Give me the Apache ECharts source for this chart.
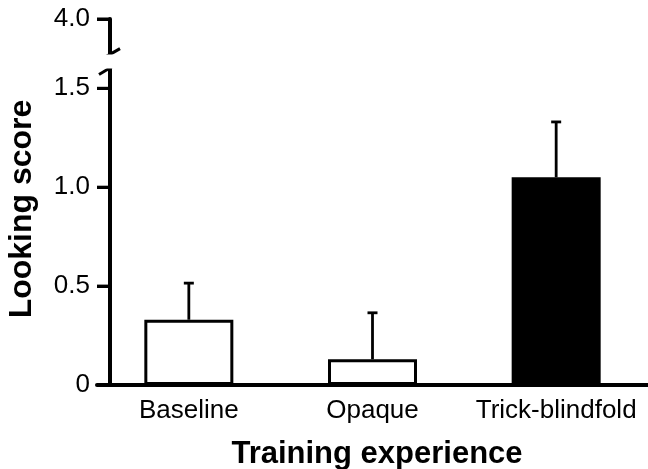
<!DOCTYPE html>
<html>
<head>
<meta charset="utf-8">
<script src="https://cdn.jsdelivr.net/npm/echarts@6/dist/echarts.min.js"></script>
<style>
html,body{margin:0;padding:0;background:#fff;}
#chart{width:648px;height:469px;}
</style>
</head>
<body>
<div id="chart"></div>
<script>
const categories = ['Baseline', 'Opaque', 'Trick-blindfold'];
const means = [0.33, 0.13, 1.05];
const errorTops = [0.515, 0.365, 1.33];
const barFills = ['#ffffff', '#ffffff', '#000000'];
const yTickValues = [0, 0.5, 1.0, 1.5, 4.0];
const yBreak = { start: 1.6, end: 3.82 };
const yMin = 0, yMax = 4.0;
const xTitle = 'Training experience';
const yTitle = 'Looking score';

const FONT = 'Liberation Sans, Arial, Helvetica, sans-serif';
const chart = echarts.init(document.getElementById('chart'), null, { renderer: 'canvas' });

const option = {
  backgroundColor: '#ffffff',
  animation: false,
  grid: { left: 97, top: 19, width: 558, bottom: 84, containLabel: false },
  xAxis: {
    type: 'category',
    data: categories,
    axisLine: { lineStyle: { color: '#000', width: 4 } },
    axisTick: { show: false },
    axisLabel: { color: '#000', fontFamily: FONT, fontSize: 26, margin: 13, interval: 0, hideOverlap: false },
    splitLine: { show: false }
  },
  yAxis: {
    type: 'value',
    min: yMin, max: yMax,
    offset: -13,
    breaks: [{ start: yBreak.start, end: yBreak.end, gap: '3.8%', isExpanded: false }],
    breakArea: {
      show: true,
      expandOnClick: false,
      zigzagAmplitude: 0,
      itemStyle: { color: '#ffffff', borderWidth: 0, borderColor: 'rgba(0,0,0,0)', opacity: 1 }
    },
    axisLine: { show: true, lineStyle: { color: '#000', width: 4 } },
    axisTick: { show: true, inside: false, length: 13, customValues: yTickValues, lineStyle: { color: '#000', width: 3 } },
    axisLabel: {
      color: '#000', fontFamily: FONT, fontSize: 26, margin: 20,
      customValues: yTickValues,
      formatter: v => (v === 0 ? '0' : v.toFixed(1))
    },
    splitLine: { show: false }
  },
  series: [
    {
      type: 'bar',
      barWidth: 89,
      data: means.map((m, i) => ({
        value: m,
        itemStyle: { color: barFills[i], borderColor: '#000', borderWidth: 3 }
      })),
      z: 2
    },
    {
      type: 'custom',
      z: 3,
      data: means.map((m, i) => [i, m, errorTops[i]]),
      renderItem: function (params, api) {
        const base = api.coord([api.value(0), api.value(1)]);
        const top = api.coord([api.value(0), api.value(2)]);
        const cap = 5;
        return {
          type: 'group',
          children: [
            { type: 'line', shape: { x1: base[0], y1: base[1], x2: top[0], y2: top[1] },
              style: { stroke: '#000', lineWidth: 2.8 } },
            { type: 'line', shape: { x1: top[0] - cap, y1: top[1], x2: top[0] + cap, y2: top[1] },
              style: { stroke: '#000', lineWidth: 2.8 } }
          ]
        };
      }
    }
  ],
  graphic: [
    { id: 'ytitle', type: 'text', x: 22, y: 209, rotation: Math.PI / 2,
      style: { text: yTitle, font: 'bold 32px ' + FONT, fill: '#000', align: 'center', verticalAlign: 'middle' } },
    { id: 'xtitle', type: 'text', x: 377, y: 454,
      style: { text: xTitle, font: 'bold 31px ' + FONT, fill: '#000', align: 'center', verticalAlign: 'middle' } }
  ]
};
chart.setOption(option);

// axis-break slash marks and tick marks placed via the axis scale
const axisX = 97 + 13;
const toY = v => chart.convertToPixel({ yAxisIndex: 0 }, v);
const yS = toY(yBreak.start);
const yE = toY(yBreak.end);
const extra = [
  { id: 'slash1', type: 'line', z: 100, shape: { x1: axisX - 11, y1: yS + 6, x2: axisX + 9, y2: yS - 6 },
    style: { stroke: '#000', lineWidth: 3 } },
  { id: 'slash2', type: 'line', z: 100, shape: { x1: axisX - 11, y1: yE + 6, x2: axisX + 10, y2: yE - 6 },
    style: { stroke: '#000', lineWidth: 3 } }
];
yTickValues.forEach((v, i) => {
  const y = toY(v);
  extra.push({ id: 'tick' + i, type: 'line', z: 100,
    shape: { x1: axisX - 13, y1: y, x2: axisX, y2: y },
    style: { stroke: '#000', lineWidth: 3 } });
});
chart.setOption({ graphic: extra });
</script>
</body>
</html>
